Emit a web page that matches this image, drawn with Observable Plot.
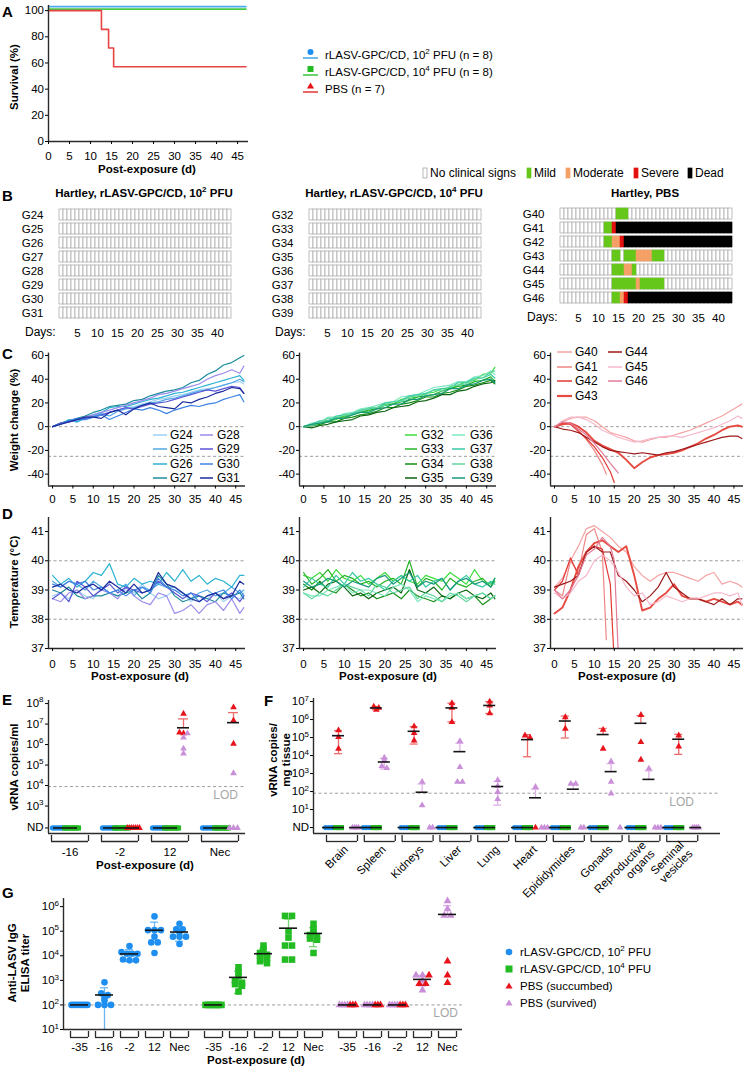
<!DOCTYPE html>
<html><head><meta charset="utf-8">
<script src="https://cdn.jsdelivr.net/npm/d3@7"></script>
<script src="https://cdn.jsdelivr.net/npm/@observablehq/plot@0.6"></script>
<style>
html,body{margin:0;padding:0;background:#fff;}
#root{position:relative;width:750px;height:1070px;overflow:hidden;font-family:'Liberation Sans',Arial,Helvetica,sans-serif;}
</style></head><body><div id="root"></div>
<script>
// ================= DATA =================
// Panel A – survival
const survDays = [0, 47];
const surv1e2 = [100, 100];
const surv1e4 = [100, 100];
const survPBSDays = [0, 12.6, 14.3, 15.5, 47];
const survPBS = [100, 85.7, 71.4, 57.1, 57.1];
const survTicksY = [0, 20, 40, 60, 80, 100];
const dayTicks = [0, 5, 10, 15, 20, 25, 30, 35, 40, 45];

// Panel B – clinical scores (0 none,1 mild,2 moderate,3 severe,4 dead), run-length [status, days]
const clinDays = [1,2,3,4,5,6,7,8,9,10,11,12,13,14,15,16,17,18,19,20,21,22,23,24,25,26,27,28,29,30,31,32,33,34,35,36,37,38,39,40,41,42,43];
const clinDayTicks = [5, 10, 15, 20, 25, 30, 35, 40];
const clinIds1 = ["G24","G25","G26","G27","G28","G29","G30","G31"];
const clinIds2 = ["G32","G33","G34","G35","G36","G37","G38","G39"];
const clinIds3 = ["G40","G41","G42","G43","G44","G45","G46"];
const clinRunsVacc = [[0, 43]];
const clinRunsPBS = {
  G40: [[0,14],[1,3],[0,26]],
  G41: [[0,11],[1,2],[3,1],[4,29]],
  G42: [[0,11],[1,2],[2,2],[3,1],[4,27]],
  G43: [[0,13],[1,2],[0,1],[1,3],[2,4],[1,3],[0,17]],
  G44: [[0,13],[1,3],[2,2],[1,1],[0,24]],
  G45: [[0,13],[1,6],[2,1],[1,6],[0,17]],
  G46: [[0,13],[1,2],[2,1],[3,1],[4,26]]
};
const clinLabels = ["No clinical signs", "Mild", "Moderate", "Severe", "Dead"];
const clinColors = ["#ffffff", "#66c71a", "#f4a066", "#e41010", "#000000"];

// Panels C/D – weight change (%) and temperature (°C)
const tDays = [0,2,4,6,8,10,12,14,16,18,20,22,24,26,28,30,32,34,36,38,40,42,44,46,47];
const weight1e2 = {
  G24:[0,2,4,5,6,8,10,12,14,16,17,19,21,23,24,26,27,29,31,32,33,35,37,38,36],
  G25:[0,3,5,4,7,9,11,9,13,15,16,18,20,21,23,24,26,28,30,31,33,35,37,40,38],
  G26:[0,2,6,4,8,10,12,16,17,17,19,21,23,24,26,28,29,31,33,35,37,39,41,43,39],
  G27:[0,3,5,7,9,12,14,17,18,19,22,23,26,28,30,31,33,37,39,44,47,52,54,58,60],
  G28:[0,2,4,6,8,10,12,14,16,18,20,22,24,27,28,30,32,34,36,40,43,45,48,45,51],
  G29:[0,3,4,6,7,8,10,12,14,16,15,17,19,20,21,23,25,27,29,31,30,32,34,33,28],
  G30:[0,2,5,7,6,8,10,6,9,12,15,14,16,14,11,14,16,18,17,19,20,23,25,27,21],
  G31:[0,2,4,6,8,8,7,12,14,10,15,18,20,17,16,15,21,20,23,25,28,30,33,32,28]
};
const weight1e4 = {
  G32:[0,2,1,5,6,9,10,13,13,16,19,19,23,24,25,28,29,32,32,35,38,39,44,45,50],
  G33:[0,2,4,5,8,8,11,12,14,15,18,19,21,22,25,26,27,30,32,34,35,38,39,42,38],
  G34:[0,1,2,4,4,7,8,10,11,13,16,16,19,20,22,25,25,28,29,31,34,35,37,39,36],
  G35:[0,-1,1,2,4,5,6,9,10,12,13,16,17,18,21,22,24,27,27,30,31,34,36,37,39],
  G36:[0,3,4,8,8,11,12,15,16,18,20,21,25,26,27,30,33,34,35,38,38,42,43,47,44],
  G37:[0,2,5,5,9,10,11,14,15,16,20,21,22,26,27,28,31,32,33,37,37,41,41,44,41],
  G38:[0,1,3,7,7,10,10,13,16,16,18,21,21,25,26,27,31,30,34,35,36,40,41,46,47],
  G39:[0,2,3,4,7,7,10,12,12,15,16,19,19,23,23,26,27,28,32,32,35,36,39,40,37]
};
const weightPBS = {
  G40:[0,4,7,8,8,5,0,-5,-7,-9,-12,-13,-11,-9,-9,-7,-5,-3,0,3,6,9,13,17,19],
  G41:[0,2,3,-3,-11,-20,-32,-40],
  G42:[0,3,2,-4,-10,-17,-26,-38,-47],
  G43:[0,2,3,0,-5,-12,-16,-19,-22,-28,-35,-30,-26,-24,-23,-22,-20,-17,-14,-10,-7,-3,0,1,0],
  G44:[0,-2,-3,-5,-9,-13,-17,-20,-21,-22,-23,-22,-23,-24,-22,-21,-19,-17,-15,-13,-11,-9,-8,-8,-10],
  G45:[0,5,8,8,6,2,-3,-6,-9,-11,-13,-12,-10,-9,-8,-8,-9,-7,-5,-3,-1,2,5,9,7],
  G46:[0,4,3,-2,-7,-14,-22,-31,-39]
};
const weightDaysPBS = {
  G41:[0,2,4,6,8,10,12,13],
  G42:[0,2,4,6,8,10,12,14,15],
  G46:[0,2,4,6,8,10,12,14,16]
};
const temp1e2 = {
  G24:[38.8,38.9,38.7,39.0,38.8,38.7,39.1,38.9,38.8,39.0,38.9,39.2,38.9,38.7,38.8,39.0,38.9,38.6,38.8,38.7,38.9,38.6,38.8,38.7,38.9],
  G25:[39.3,39.1,39.3,39.2,39.0,39.3,39.1,38.9,39.0,39.2,38.8,39.1,39.0,39.2,39.1,39.1,38.9,38.7,38.9,39.0,38.8,38.9,39.1,38.9,39.0],
  G26:[39.5,39.2,39.4,39.1,39.3,39.6,39.5,39.9,39.2,39.1,39.4,39.2,39.3,39.2,39.6,39.3,39.7,39.3,39.5,39.2,39.4,39.3,39.1,39.5,39.5],
  G27:[39.0,38.9,39.1,38.8,38.7,38.8,38.8,38.9,38.8,38.9,39.0,38.7,38.9,39.5,39.2,38.8,38.6,38.7,38.8,38.7,38.6,38.9,38.8,38.9,38.7],
  G28:[38.7,38.6,38.9,39.0,38.7,38.8,39.0,38.9,38.7,39.1,38.8,38.6,38.5,38.9,38.8,38.2,38.3,38.5,38.2,38.5,38.6,38.3,38.7,38.2,38.4],
  G29:[38.7,38.9,38.6,39.3,39.1,38.8,39.0,39.2,38.9,39.1,39.0,38.9,39.0,39.3,39.1,38.9,38.7,38.9,38.8,38.6,38.9,38.7,38.9,38.6,38.8],
  G30:[39.2,39.1,39.3,39.2,39.3,39.0,39.1,38.9,39.0,38.8,39.0,39.1,38.9,39.4,39.1,39.0,38.8,38.9,38.6,38.8,38.9,39.0,38.7,39.0,38.8],
  G31:[39.1,39.2,39.0,38.9,39.1,39.2,39.0,39.3,39.1,38.9,39.2,38.9,39.0,39.6,39.2,39.1,38.9,38.7,38.6,38.8,38.9,38.7,38.8,39.3,39.2]
};
const temp1e4 = {
  G32:[39.5,39.4,39.6,39.3,39.7,39.4,39.3,39.5,39.2,39.4,39.6,39.3,39.5,39.3,39.2,39.5,39.4,39.3,39.6,39.4,39.2,39.7,39.3,39.2,39.4],
  G33:[39.6,39.2,39.4,39.7,39.3,39.5,39.4,39.2,39.3,39.1,39.3,39.4,39.2,40.0,39.1,39.4,39.3,39.0,39.4,39.2,39.1,39.3,39.4,39.1,39.3],
  G34:[39.2,39.0,39.3,39.0,38.9,39.2,39.0,38.8,38.9,38.7,38.8,38.9,38.7,39.0,38.8,38.7,38.6,38.8,38.7,38.9,38.7,38.8,38.5,38.7,38.8],
  G35:[39.0,39.1,38.9,39.2,39.3,39.1,38.8,38.9,38.7,38.9,39.0,39.1,38.9,39.7,39.0,38.9,39.1,38.8,38.7,38.9,39.0,38.8,38.7,38.9,38.7],
  G36:[38.9,38.8,38.8,39.0,39.1,39.2,38.9,39.0,39.0,38.9,38.8,39.1,39.2,39.0,38.6,38.8,38.7,38.6,38.8,38.9,38.7,38.8,38.9,38.7,38.8],
  G37:[39.1,39.4,39.2,39.1,39.5,39.2,39.6,39.3,39.4,39.2,39.0,39.3,39.5,39.3,39.5,39.1,39.3,39.4,39.0,39.3,39.5,39.2,39.1,39.3,39.2],
  G38:[38.9,38.7,38.9,38.8,39.0,39.2,39.1,39.0,38.8,39.2,39.1,38.9,39.0,39.1,38.7,38.9,38.8,38.6,38.9,38.8,38.6,38.8,38.9,38.7,38.8],
  G39:[39.3,39.1,39.2,39.4,39.3,39.1,39.3,39.2,39.1,39.4,39.5,39.2,39.4,39.6,39.1,39.3,39.2,39.4,39.0,39.3,39.4,39.2,39.3,39.1,39.4]
};
const tempPBS = {
  G40:[39.1,39.4,40.0,40.5,41.1,41.2,41.0,40.8,40.5,40.3,39.8,39.5,39.3,39.5,39.6,39.6,39.5,39.4,39.3,39.5,39.6,39.2,39.3,39.2,39.1],
  G41:[39.0,38.8,40.0,39.6,40.9,41.1,40.3,37.3],
  G42:[39.0,39.3,40.1,39.5,40.3,40.5,40.4,39.2,36.5],
  G43:[38.2,38.4,39.0,39.8,40.3,40.6,40.7,40.5,40.3,40.5,39.5,38.3,38.4,38.7,38.9,39.2,38.8,38.7,38.7,38.6,38.7,38.6,38.5,38.6,38.5],
  G44:[39.1,39.2,39.3,39.5,40.3,40.5,40.3,40.3,39.5,39.3,39.0,38.6,38.8,39.1,39.6,39.1,38.9,38.7,38.7,38.6,38.5,38.7,38.5,38.7,38.7],
  G45:[38.9,38.7,38.9,39.3,39.5,40.0,40.2,40.0,39.6,39.1,38.8,38.9,38.5,38.6,38.8,38.7,38.6,38.7,38.7,38.8,38.9,38.9,38.8,38.9,38.5],
  G46:[39.0,38.7,39.0,39.5,40.2,40.4,40.8,40.5,40.0,36.8]
};
const tempDaysPBS = {
  G41:[0,2,4,6,8,10,12,13],
  G42:[0,2,4,6,8,10,12,14,15],
  G46:[0,2,4,6,8,10,12,14,15,16]
};
const colors1e2 = {G24:"#9fd0f2",G25:"#4fa9e6",G26:"#2cb3d1",G27:"#1c8c9c",G28:"#9a8cec",G29:"#5b55d6",G30:"#3e83e4",G31:"#1b2b9a"};
const colors1e4 = {G32:"#3fdc3f",G33:"#27b327",G34:"#168f16",G35:"#0b6410",G36:"#7ee8c0",G37:"#3ac9a6",G38:"#62d6a0",G39:"#19997c"};
const colorsPBS = {G40:"#f5a3a3",G41:"#f08585",G42:"#e23a35",G43:"#e64a40",G44:"#9e1a1a",G45:"#f6b9cb",G46:"#e27c98"};
const weightTicks = [-40, -20, 0, 20, 40, 60];
const tempTicks = [37, 38, 39, 40, 41];

// Panel E – viremia (vRNA copies/ml)
const eGroups = ["-16", "-2", "12", "Nec"];
const eBlueND = [8, 8, 8, 8];
const eGreenND = [8, 8, 8, 8];
const eRed = [[], [], [3.2e7, 3.9e6, 3.5e6], [6.6e7, 1.5e7, 1.1e6]];
const eRedND = [0, 7, 0, 0];
const ePurple = [[], [], [3.5e6, 2.2e6, 6.3e5, 3.6e5], [4e4]];
const ePurpleND = [0, 0, 0, 3];
const eLOD = 8.9e3;
const eTicks = [1e3, 1e4, 1e5, 1e6, 1e7, 1e8];

// Panel F – tissues (vRNA copies/mg)
const fTissues = ["Brain","Spleen","Kidneys","Liver","Lung","Heart","Epididymides","Gonads","Reproductive\norgans","Seminal\nvesicles"];
const fBlueND = [3,3,3,3,3,3,3,3,3,3];
const fGreenND = [3,3,3,3,3,3,3,3,3,3];
const fRed = [[2.5e5,1.07e5,2.4e4],[5.2e6,4.5e6,3.5e6],[4.2e5,1.8e5,6.9e4],[8.1e6,4.5e6,7.2e5],[1e7,6e6,2.2e6],[1.3e5,1e5],[1.35e6,3.1e5],[2.7e5,2.4e4],[1.8e6,5.6e4,5.9e3],[1.3e5,3.2e4]];
const fRedND = [0,0,0,0,0,1,0,0,0,0];
const fPurple = [[],[7.6e3,5.4e3,2.6e3,2e3],[350,17],[6.3e4,2.3e3,350,350],[430,200,95,38],[180],[270,270],[4.7e3,350,78],[1.9e3],[]];
const fPurpleND = [4,0,2,0,0,3,2,1,3,4];
const fLOD = 81;
const fTicks = [1e1, 1e2, 1e3, 1e4, 1e5, 1e6, 1e7];

// Panel G – anti-LASV IgG ELISA titer
const gTimes = ["-35", "-16", "-2", "12", "Nec"];
const gBlue = [[100,100,100,100,100,100,100,100],[830,300,250,200,150,100,100,100],[2.5e4,1.4e4,1.2e4,1.2e4,1.2e4,7e3,6.5e3,6.5e3],[4e5,1.1e5,1.1e5,1.1e5,6e4,3.5e4,3.5e4,1.3e4],[2e5,1.2e5,1.2e5,9e4,6e4,6e4,6e4,3e4]];
const gGreen = [[100,100,100,100,100,100,100,100],[3.4e3,2.2e3,1.5e3,1e3,800,700,600,350],[2.6e4,1.8e4,1.3e4,1.1e4,1e4,8e3,6e3,5e3],[4.2e5,4.2e5,1e5,5.5e4,2.6e4,2.6e4,7e3,7e3],[2e5,1.2e5,9e4,7e4,6e4,5e4,4.5e4,1.3e4]];
const gRed = [[100,100,100],[100,100,100],[100,100,100],[1.6e3,730,730],[6e3,1.6e3,800]];
const gPurple = [[100,100,100,100],[100,100,100,100],[100,100,100,100],[1.6e3,1.6e3,1e3,400],[1.7e6,8e5,4.3e5,4.3e5]];
const gLOD = 100;
const gTicks = [1e1, 1e2, 1e3, 1e4, 1e5, 1e6];
const gLegend = ["rLASV-GPC/CD, 10^2 PFU", "rLASV-GPC/CD, 10^4 PFU", "PBS (succumbed)", "PBS (survived)"];

// ================= STYLE / HELPERS =================
const FONT = "'Liberation Sans', Arial, Helvetica, sans-serif";
const AX = "#2b2b2b";
const BL = "#1e8ff0", GR = "#22bb22", RD = "#e8141c", PU = "#c98fd8";
const BL_E = "#6ab6f3", GR_E = "#74d474", RD_E = "#ee6a6a", PU_E = "#dfb0e8";
const root = document.getElementById("root");
const E_LMIN = 1.66, E_LMAX = 8.15, E_ND = 10 ** 1.93;
let eScaleY = null;

function frame(x0, x1, y0, y1) {
  return {width: 750, height: 1070, marginLeft: x0, marginRight: 750 - x1, marginTop: y0, marginBottom: 1070 - y1};
}
function mount(svg) {
  Object.assign(svg.style, {position: "absolute", left: "0px", top: "0px", background: "transparent",
    fontFamily: FONT, fontSize: "11.5px", color: "#000", overflow: "visible", maxWidth: "none"});
  svg.querySelectorAll("text").forEach(t => {
    const m = /^10\^(-?\d+)$/.exec(t.textContent);
    if (m) {
      t.textContent = "10";
      const ts = document.createElementNS("http://www.w3.org/2000/svg", "tspan");
      ts.setAttribute("dy", "-4.5"); ts.setAttribute("font-size", "8"); ts.textContent = m[1];
      t.appendChild(ts);
    }
  });
  root.appendChild(svg);
  return svg;
}
const nd = (n, v) => Array(n).fill(v);

// y axis (log) drawn with Plot marks: tick rules + labels, plus "ND" row
function logAxis(ticks, ndVal, xmin, ppu, withText = true) {
  const all = ndVal === null ? ticks : [ndVal].concat(ticks);
  const rows = all.map(v => ({v, t: v === ndVal ? "ND" : "10^" + Math.round(Math.log10(v))}));
  const marks = [Plot.ruleY(rows, {y: "v", x1: xmin - 3 / ppu, x2: xmin, stroke: "#000", strokeWidth: 1})];
  if (withText) marks.push(Plot.text(rows, {y: "v", x: xmin, text: "t", textAnchor: "end", dx: -4.5, fill: "#000", fontSize: 11.5}));
  return marks;
}

function swarm(items, cx, ppu, maxSp, width, thr) {
  const s = items.slice().sort((a, b) => b.v - a.v);
  const out = []; let i = 0;
  while (i < s.length) {
    let j = i;
    while (j + 1 < s.length && Math.log10(s[i].v) - Math.log10(s[j + 1].v) < thr) j++;
    const k = j - i + 1, sp = k > 1 ? Math.min(maxSp, width / (k - 1)) : 0;
    s.slice(i, j + 1).sort((a, b) => a.o - b.o).forEach((p, m) => out.push({...p, x: cx + (m - (k - 1) / 2) * sp / ppu}));
    i = j + 1;
  }
  return out;
}
function stat(vals, ndCount, x, color) {
  const all = vals.concat(nd(ndCount, 0));
  if (!all.length) return null;
  return {x, m: d3.mean(all), sd: all.length > 1 ? d3.deviation(all) : 0, color};
}
function errMarks(list, ppu, capPx, meanPx, yMin, ndVal) {
  const bars = [], caps = [], means = [];
  const ch = capPx / ppu, mh = meanPx / ppu;
  list.filter(Boolean).forEach(s => {
    means.push({x1: s.x - mh, x2: s.x + mh, y: s.m > 0 ? s.m : ndVal});
    if (s.m > 0 && s.sd > 0) {
      const hi = s.m + s.sd;
      bars.push({x: s.x, y1: s.m, y2: hi, c: s.color});
      caps.push({x1: s.x - ch, x2: s.x + ch, y: hi, c: s.color});
      const lo = s.m - s.sd;
      if (lo > 0) {
        bars.push({x: s.x, y1: Math.max(lo, yMin), y2: s.m, c: s.color});
        if (lo > yMin) caps.push({x1: s.x - ch, x2: s.x + ch, y: lo, c: s.color});
      }
    }
  });
  return [
    Plot.ruleX(bars, {x: "x", y1: "y1", y2: "y2", stroke: "c", strokeWidth: 1.3}),
    Plot.ruleY(caps, {x1: "x1", x2: "x2", y: "y", stroke: "c", strokeWidth: 1.3}),
    Plot.ruleY(means, {x1: "x1", x2: "x2", y: "y", stroke: "#151515", strokeWidth: 1.6})
  ];
}
function bracketMarks(starts, w, yMin, lmin, ppd, labels, labelDy) {
  const hi = 10 ** (lmin - 2 / ppd), lo = 10 ** (lmin - 8 / ppd);
  const ends = starts.flatMap(s => [s, s + w]);
  const marks = [
    Plot.ruleX(ends, {x: d => d, y1: hi, y2: lo, stroke: AX, strokeWidth: 1.3}),
    Plot.ruleY(starts, {x1: d => d, x2: d => d + w, y: lo, stroke: AX, strokeWidth: 1.3})
  ];
  if (labels) marks.push(Plot.text(starts.map((s, i) => ({x: s + w / 2, t: labels[i]})), {x: "x", y: () => yMin, text: "t", dy: labelDy, fontSize: 11.5, fill: "#000"}));
  return marks;
}

// ================= PANEL A =================
mount(Plot.plot({
  ...frame(48, 248, 4.9, 141),
  x: {domain: [0, 47.6], axis: null}, y: {domain: [0, 104], axis: null},
  marks: [
    Plot.line(survDays.map((d, i) => ({d, v: surv1e4[i]})), {x: "d", y: "v", stroke: "#45c845", strokeWidth: 1.6, dy: -1.5}),
    Plot.line(survDays.map((d, i) => ({d, v: surv1e2[i]})), {x: "d", y: "v", stroke: "#4aaae6", strokeWidth: 1.6, dy: -4}),
    Plot.line(survPBSDays.map((d, i) => ({d, v: survPBS[i]})), {x: "d", y: "v", stroke: "#e84343", strokeWidth: 1.6, curve: "step-after"}),
    Plot.ruleX([0], {stroke: AX, strokeWidth: 1.4}),
    Plot.ruleY([0], {stroke: AX, strokeWidth: 1.4}),
    Plot.axisY({ticks: survTicksY, tickSize: 3, tickPadding: 1.5, tickFormat: d => String(d), label: null}),
    Plot.axisX({ticks: dayTicks, tickSize: 3, tickPadding: 7, tickFormat: d => String(d), label: null})
  ]
}));

// ================= PANEL B =================
function expandRuns(runs) { const out = []; runs.forEach(([s, n]) => { for (let k = 0; k < n; k++) out.push(s); }); return out; }
function clinChart(ids, runsOf, x0, x1, y0, y1, pad) {
  const data = [];
  ids.forEach(id => expandRuns(runsOf(id)).forEach((s, k) => data.push({id, day: clinDays[k], s})));
  return mount(Plot.plot({
    ...frame(x0, x1, y0, y1),
    x: {type: "band", domain: clinDays, padding: 0, axis: null},
    y: {type: "band", domain: ids, paddingInner: 0.245, paddingOuter: 0, axis: null},
    color: {type: "identity"},
    marks: [
      Plot.cell(data, {x: "day", y: "id", fill: d => clinColors[d.s], stroke: "#a3a3a3", strokeWidth: 0.7}),
      Plot.cell(data.filter(d => d.s > 0), {x: "day", y: "id", fill: d => clinColors[d.s], stroke: d => clinColors[d.s], strokeWidth: 0.5}),
      Plot.axisY({tickSize: 0, tickPadding: 5, label: null}),
      Plot.axisX({ticks: clinDayTicks, tickSize: 0, tickPadding: pad, label: null})
    ]
  }));
}
clinChart(clinIds1, () => clinRunsVacc, 48, 241, 206.5, 319.5, 8.6);
clinChart(clinIds2, () => clinRunsVacc, 298, 491, 206.5, 319.5, 8.6);
clinChart(clinIds3, id => clinRunsPBS[id], 549, 742, 206.5, 304.9, 8.2);

// ================= PANELS C & D =================
function timeChart(x0, x1, y0, y1, ydom, yticks, dashes, xPad, vals, daysOf, colors, clip) {
  const ids = Object.keys(vals);
  return mount(Plot.plot({
    ...frame(x0, x1, y0, y1),
    x: {domain: [-1, 47.4], axis: null}, y: {domain: ydom, axis: null},
    marks: [
      Plot.ruleY(dashes, {stroke: "#9d9d9d", strokeWidth: 1, strokeDasharray: "3,2.5"}),
      ...ids.map(id => Plot.line(daysOf(id).map((d, i) => ({d, v: vals[id][i]})),
        {x: "d", y: "v", stroke: colors[id], strokeWidth: id === "G43" ? 1.9 : 1.2, clip})),
      Plot.ruleX([-1], {stroke: AX, strokeWidth: 1.4}),
      Plot.ruleY([ydom[0]], {stroke: AX, strokeWidth: 1.4}),
      Plot.axisY({ticks: yticks, tickSize: 3, tickPadding: 1.5, tickFormat: d => String(d), label: null}),
      Plot.axisX({ticks: dayTicks, tickSize: 3, tickPadding: xPad, tickFormat: d => String(d), label: null})
    ]
  }));
}
const wDom = [-50, 62], tDom = [37, 41.48];
timeChart(48, 245, 352.6, 485.5, wDom, weightTicks, [0, -25], 5.6, weight1e2, () => tDays, colors1e2, true);
timeChart(299, 496, 352.6, 485.5, wDom, weightTicks, [0, -25], 5.6, weight1e4, () => tDays, colors1e4, true);
timeChart(550, 743, 352.6, 485.5, wDom, weightTicks, [0, -25], 5.6, weightPBS, id => weightDaysPBS[id] || tDays, colorsPBS, true);
timeChart(48, 245, 517, 648, tDom, tempTicks, [38, 40], 8, temp1e2, () => tDays, colors1e2, true);
timeChart(299, 496, 517, 648, tDom, tempTicks, [38, 40], 8, temp1e4, () => tDays, colors1e4, true);
timeChart(550, 743, 517, 648, tDom, tempTicks, [38, 40], 8, tempPBS, id => tempDaysPBS[id] || tDays, colorsPBS, true);

// ================= PANEL E =================
(function () {
  const lmin = E_LMIN, yMin = 10 ** lmin, ND = E_ND, ppu = 50, ppd = 20.5, xmin = -0.06;
  const colB = 0.16, colG = 0.40, colP = 0.64;
  const circles = [], squares = [], tris = [], stats = [];
  eGroups.forEach((g, i) => {
    circles.push(...swarm(nd(eBlueND[i], ND).map(v => ({v, c: BL, o: 0})), i + colB, ppu, 3, 14, 0.1));
    squares.push(...swarm(nd(eGreenND[i], ND).map(v => ({v, c: GR, o: 0})), i + colG, ppu, 3, 14, 0.1));
    const items = eRed[i].map(v => ({v, c: RD, o: 0})).concat(nd(eRedND[i], ND).map(v => ({v, c: RD, o: 0})),
      ePurple[i].map(v => ({v, c: PU, o: 1})), nd(ePurpleND[i], ND).map(v => ({v, c: PU, o: 1})));
    tris.push(...swarm(items, i + colP, ppu, 4, 12, 0.12));
    if (eBlueND[i]) stats.push(stat([], eBlueND[i], i + colB, BL_E));
    if (eGreenND[i]) stats.push(stat([], eGreenND[i], i + colG, GR_E));
    if (items.length) stats.push(stat(eRed[i].concat(ePurple[i]), eRedND[i] + ePurpleND[i], i + colP, RD_E));
  });
  const [bars, caps, means] = errMarks(stats, ppu, 5, 6, yMin, ND);
  const pE = mount(Plot.plot({
    ...frame(48, 245, 700, 833),
    x: {domain: [xmin, 3.88], axis: null}, y: {type: "log", domain: [yMin, 10 ** E_LMAX], axis: null},
    color: {type: "identity"},
    marks: [
      Plot.ruleY([eLOD], {stroke: "#9d9d9d", strokeWidth: 1, strokeDasharray: "3,2.5"}),
      bars, caps,
      Plot.dot(circles, {x: "x", y: "v", fill: "c", r: 2.6, symbol: "circle"}),
      Plot.dot(squares, {x: "x", y: "v", fill: "c", r: 2.9, symbol: "square"}),
      Plot.dot(tris, {x: "x", y: "v", fill: "c", r: 2.5, symbol: "triangle"}),
      means,
      Plot.ruleX([xmin], {stroke: AX, strokeWidth: 1.4}),
      Plot.ruleY([yMin], {stroke: AX, strokeWidth: 1.4}),
      ...logAxis(eTicks, ND, xmin, ppu, false),
      ...bracketMarks(eGroups.map((g, i) => i), 0.74, yMin, lmin, ppd, eGroups, 19)
    ]
  }));
  try { eScaleY = pE.scale("y"); } catch (err) { eScaleY = null; }
})();

// ================= PANEL F =================
(function () {
  const lmin = -0.33, yMin = 10 ** lmin, ND = 1, ppu = 37.8, ppd = 18, xmin = -0.344;
  const off = {blueND: 2, greenND: 12, red: 12, redND: 20, purple: 20, purpleND: 29};
  const X = (i, k) => i + off[k] / ppu;
  const circles = [], squares = [], tris = [], stats = [];
  fTissues.forEach((t, i) => {
    circles.push(...swarm(nd(fBlueND[i], ND).map(v => ({v, c: BL, o: 0})), X(i, "blueND"), ppu, 3, 6, 0.1));
    squares.push(...swarm(nd(fGreenND[i], ND).map(v => ({v, c: GR, o: 0})), X(i, "greenND"), ppu, 3, 6, 0.1));
    tris.push(...swarm(fRed[i].map(v => ({v, c: RD, o: 0})), X(i, "red"), ppu, 5, 8, 0.12));
    tris.push(...swarm(nd(fRedND[i], ND).map(v => ({v, c: RD, o: 0})), X(i, "redND"), ppu, 3, 6, 0.1));
    tris.push(...swarm(fPurple[i].map(v => ({v, c: PU, o: 1})), X(i, "purple"), ppu, 5, 8, 0.12));
    tris.push(...swarm(nd(fPurpleND[i], ND).map(v => ({v, c: PU, o: 1})), X(i, "purpleND"), ppu, 3, 6, 0.1));
    stats.push(stat([], fBlueND[i], X(i, "blueND"), BL_E));
    stats.push(stat([], fGreenND[i], X(i, "greenND"), GR_E));
    if (fRed[i].length) stats.push(stat(fRed[i], fRedND[i], X(i, "red"), RD_E));
    if (fPurple[i].length) stats.push(stat(fPurple[i], fPurpleND[i], X(i, "purple"), PU_E));
    else if (fPurpleND[i]) stats.push(stat([], fPurpleND[i], X(i, "purpleND"), PU_E));
  });
  const [bars, caps, means] = errMarks(stats, ppu, 4, 6, yMin, ND);
  const starts = fTissues.map((t, i) => i);
  mount(Plot.plot({
    ...frame(313, 720, 698, 833),
    x: {domain: [xmin, 10.423], axis: null}, y: {type: "log", domain: [yMin, 10 ** 7.17], axis: null},
    color: {type: "identity"},
    marks: [
      Plot.ruleY([fLOD], {stroke: "#9d9d9d", strokeWidth: 1, strokeDasharray: "3,2.5"}),
      bars, caps,
      Plot.dot(circles, {x: "x", y: "v", fill: "c", r: 2.6, symbol: "circle"}),
      Plot.dot(squares, {x: "x", y: "v", fill: "c", r: 2.9, symbol: "square"}),
      Plot.dot(tris, {x: "x", y: "v", fill: "c", r: 2.5, symbol: "triangle"}),
      means,
      Plot.ruleX([xmin], {stroke: AX, strokeWidth: 1.4}),
      Plot.ruleY([yMin], {stroke: AX, strokeWidth: 1.4}),
      ...logAxis(fTicks, ND, xmin, ppu),
      ...bracketMarks(starts, 0.82, yMin, lmin, ppd, null, 0),
      Plot.text(fTissues.map((t, i) => ({t, x: i + 0.41})), {x: "x", y: () => yMin, text: "t", rotate: -45, textAnchor: "end", dx: 4, dy: 14, fontSize: 11.5, fill: "#000", lineHeight: 1.05})
    ]
  }));
})();

// ================= PANEL G =================
(function () {
  const lmin = 1, yMin = 10, ppu = 25, ppd = 24.6, clusterStep = 5.36, xmin = -0.64;
  const circles = [], squares = [], tris = [], stats = [];
  gTimes.forEach((t, j) => {
    const xb = 0 * clusterStep + j, xg = 1 * clusterStep + j, xp = 2 * clusterStep + j;
    circles.push(...swarm(gBlue[j].map(v => ({v, c: BL, o: 0})), xb, ppu, 6.5, 16, 0.1));
    squares.push(...swarm(gGreen[j].map(v => ({v, c: GR, o: 0})), xg, ppu, 7, 16, 0.1));
    tris.push(...swarm(gPurple[j].map(v => ({v, c: PU, o: 0})).concat(gRed[j].map(v => ({v, c: RD, o: 1}))), xp, ppu, 6.5, 16, 0.1));
    stats.push(stat(gBlue[j], 0, xb, BL_E));
    stats.push(stat(gGreen[j], 0, xg, GR_E));
    stats.push(stat(gRed[j].concat(gPurple[j]), 0, xp, PU_E));
  });
  const [bars, caps, means] = errMarks(stats, ppu, 4, 9, yMin, yMin);
  const starts = [];
  const labels = [];
  [0, 1, 2].forEach(c => gTimes.forEach((t, j) => { starts.push(c * clusterStep + j - 0.36); labels.push(t); }));
  mount(Plot.plot({
    ...frame(63, 462, 898, 1029),
    x: {domain: [xmin, 15.32], axis: null}, y: {type: "log", domain: [yMin, 10 ** 6.33], axis: null},
    color: {type: "identity"},
    marks: [
      Plot.ruleY([gLOD], {stroke: "#9d9d9d", strokeWidth: 1, strokeDasharray: "3,2.5"}),
      bars, caps,
      Plot.dot(circles, {x: "x", y: "v", fill: "c", r: 3.3, symbol: "circle"}),
      Plot.dot(squares, {x: "x", y: "v", fill: "c", r: 3.7, symbol: "square"}),
      Plot.dot(tris, {x: "x", y: "v", fill: "c", r: 2.9, symbol: "triangle"}),
      means,
      Plot.ruleX([xmin], {stroke: AX, strokeWidth: 1.4}),
      Plot.ruleY([yMin], {stroke: AX, strokeWidth: 1.4}),
      ...logAxis(gTicks, null, xmin, ppu),
      ...bracketMarks(starts, 0.72, yMin, lmin, ppd, labels, 18)
    ]
  }));
})();

// ================= OVERLAY TEXT / LEGENDS =================
(function () {
  const o = [];
  const T = (x, y, s, opt = {}) => o.push(`<text x="${x}" y="${y}" font-size="${opt.size || 11.5}"${opt.bold ? ' font-weight="bold"' : ''} text-anchor="${opt.anchor || 'start'}" dominant-baseline="central" fill="${opt.fill || '#000'}"${opt.rot ? ` transform="rotate(${opt.rot},${x},${y})"` : ''}>${s}</text>`);
  const sup = s => s.replace(/10\^(\d)(.*)$/, (m, n, rest) => `10<tspan dy="-4" font-size="8">${n}</tspan><tspan dy="4">${rest}</tspan>`);
  const tri = (x, y, c) => o.push(`<path d="M${x},${y - 3.6}L${x + 3.6},${y + 2.6}L${x - 3.6},${y + 2.6}Z" fill="${c}"/>`);
  // panel letters
  [["A", 2, 11], ["B", 2, 195], ["C", 2, 353], ["D", 2, 513], ["E", 2, 699], ["F", 264, 700], ["G", 2, 892]]
    .forEach(([l, x, y]) => T(x, y, l, {bold: true, size: 15}));
  // axis titles
  T(14, 77, "Survival (%)", {bold: true, anchor: "middle", rot: -90});
  T(14, 420, "Weight change (%)", {bold: true, anchor: "middle", rot: -90});
  T(14, 582, "Temperature (°C)", {bold: true, anchor: "middle", rot: -90});
  T(14, 767, "vRNA copies/ml", {bold: true, anchor: "middle", rot: -90});
  T(273, 760, "vRNA copies/", {bold: true, anchor: "middle", rot: -90});
  T(286, 760, "mg tissue", {bold: true, anchor: "middle", rot: -90});
  T(12, 963, "Anti-LASV IgG", {bold: true, anchor: "middle", rot: -90});
  T(25, 963, "ELISA titer", {bold: true, anchor: "middle", rot: -90});
  [[147, 169], [140, 676], [388, 676], [627, 676], [145, 865], [256, 1060]]
    .forEach(([x, y]) => T(x, y, "Post-exposure (d)", {bold: true, anchor: "middle"}));
  // Panel E y tick labels (placed through panel E's y scale)
  const eY = v => (eScaleY && eScaleY.apply) ? eScaleY.apply(v) : d3.scaleLog().domain([10 ** E_LMIN, 10 ** E_LMAX]).range([833, 700])(v);
  [E_ND].concat(eTicks).forEach(v => {
    const lbl = v === E_ND ? "ND" : sup("10^" + Math.round(Math.log10(v)));
    T(43.5, eY(v), lbl);
    o[o.length - 1] = o[o.length - 1].replace('text-anchor="start"', 'text-anchor="end"');
  });
  // Panel A legend
  const aLeg = [["rLASV-GPC/CD, 10^2 PFU (n = 8)", "#4aaae6", "c"], ["rLASV-GPC/CD, 10^4 PFU (n = 8)", "#45c845", "s"], ["PBS (n = 7)", "#e84343", "t"]];
  aLeg.forEach(([s, c, m], k) => {
    const y = 55 + 17 * k;
    o.push(`<line x1="303" x2="318" y1="${y + 3}" y2="${y + 3}" stroke="${c}" stroke-width="1.6"/>`);
    const mc = m === "c" ? BL : m === "s" ? GR : RD;
    if (m === "c") o.push(`<circle cx="310.5" cy="${y - 3}" r="3" fill="${mc}"/>`);
    else if (m === "s") o.push(`<rect x="307.5" y="${y - 6}" width="6" height="6" fill="${mc}"/>`);
    else tri(310.5, y - 3, mc);
    T(325, y, sup(s));
  });
  // Panel B titles / legend
  T(144, 193, sup("Hartley, rLASV-GPC/CD, 10^2 PFU"), {bold: true, anchor: "middle"});
  T(394, 193, sup("Hartley, rLASV-GPC/CD, 10^4 PFU"), {bold: true, anchor: "middle"});
  T(645, 193, "Hartley, PBS", {bold: true, anchor: "middle"});
  const bx = [423, 527, 566, 634, 688];
  clinLabels.forEach((l, k) => {
    o.push(`<rect x="${bx[k]}" y="168" width="4" height="10" fill="${clinColors[k]}" stroke="${k === 0 ? '#999' : clinColors[k]}" stroke-width="0.7"/>`);
    T(bx[k] + 7, 173, l, {size: 12});
  });
  T(25, 332, "Days:", {size: 12}); T(275, 332, "Days:", {size: 12}); T(527, 317, "Days:", {size: 12});
  // Panel C legends
  function lineLegend(cols, ys, xs, colors) {
    cols.forEach((ids, c) => ids.forEach((id, r) => {
      const [l1, l2, tx] = xs[c];
      o.push(`<line x1="${l1}" x2="${l2}" y1="${ys[r]}" y2="${ys[r]}" stroke="${colors[id]}" stroke-width="${id === 'G43' ? 2.2 : 1.5}"/>`);
      T(tx, ys[r], id, {size: 12});
    }));
  }
  lineLegend([["G24","G25","G26","G27"], ["G28","G29","G30","G31"]], [435, 449, 464, 478], [[153, 167, 170], [200, 213, 217]], colors1e2);
  lineLegend([["G32","G33","G34","G35"], ["G36","G37","G38","G39"]], [435, 449, 464, 478], [[405, 417, 421], [452, 465, 470]], colors1e4);
  lineLegend([["G40","G41","G42","G43"], ["G44","G45","G46"]], [352, 367, 381, 396], [[557, 572, 575], [608, 622, 625]], colorsPBS);
  // LOD labels
  T(238, 795, "LOD", {anchor: "end", fill: "#a6a6a6", size: 12});
  T(694, 802, "LOD", {anchor: "end", fill: "#a6a6a6", size: 12});
  T(458, 1013, "LOD", {anchor: "end", fill: "#a6a6a6", size: 12});
  // Panel G legend
  const gc = [BL, GR, RD, PU];
  gLegend.forEach((s, k) => {
    const y = 952 + 17 * k;
    if (k === 0) o.push(`<circle cx="509" cy="${y}" r="3.3" fill="${gc[k]}"/>`);
    else if (k === 1) o.push(`<rect x="505.5" y="${y - 3.5}" width="7" height="7" fill="${gc[k]}"/>`);
    else tri(509, y, gc[k]);
    T(520, y, sup(s));
  });
  const ov = document.createElementNS("http://www.w3.org/2000/svg", "svg");
  ov.setAttribute("width", 750); ov.setAttribute("height", 1070);
  ov.setAttribute("style", `position:absolute;left:0;top:0;overflow:visible;font-family:${FONT}`);
  ov.innerHTML = o.join("");
  root.appendChild(ov);
})();
</script></body></html>
